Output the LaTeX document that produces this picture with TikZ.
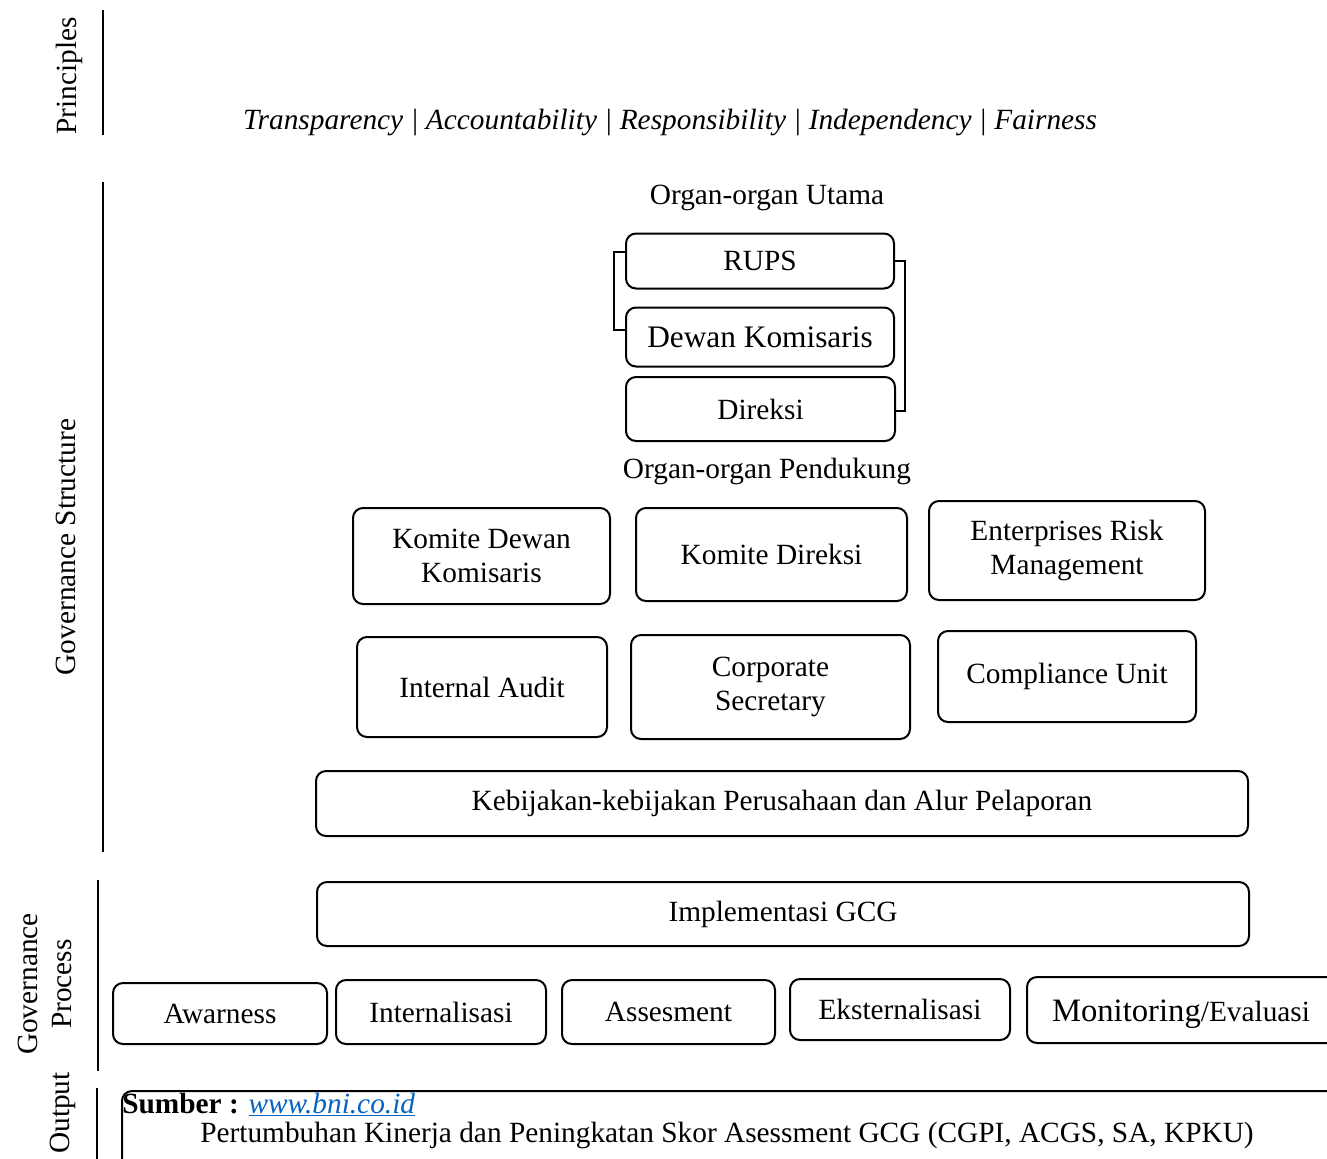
\documentclass[tikz,border=0pt]{standalone}
\usepackage{fontspec}
\setmainfont{Liberation Serif}
\usetikzlibrary{fit}
\definecolor{linkblue}{HTML}{0563C1}
\begin{document}
\begin{tikzpicture}[x=0.75pt,y=-0.75pt,
  box/.style={draw, line width=1.5pt, rounded corners=7.5pt, inner sep=0pt, align=center, font=\fontsize{22}{25.5}\selectfont},
  sz/.style 2 args={minimum width=#1*0.75pt, minimum height=#2*0.75pt},
  lbl/.style={font=\fontsize{22}{25.5}\selectfont, align=center, inner sep=0pt},
  vlbl/.style={lbl, rotate=90},
  sep/.style={line width=1pt},
  brk/.style={line width=0.8pt}]
\useasboundingbox (0,0) rectangle (1327,1158);
\clip (0,0) rectangle (1327,1158);

% side labels and separators
\node[vlbl] (lprin) at (69,76) {Principles};
\draw[sep] (103,10) -- (103,135);
\node[vlbl] (lstruct) at (66,547) {Governance Structure};
\draw[sep] (103,182) -- (103,852);
\node[vlbl] (lproc) at (45,984) {Governance\\Process};
\draw[sep] (98,880) -- (98,1071);
\node[vlbl] (lout) at (63,1113) {Output};
\draw[sep] (97,1088) -- (97,1160);

% principles
\node[lbl, font=\fontsize{22}{25.5}\selectfont\itshape] (prin) at (670,122) {Transparency | Accountability | Responsibility | Independency | Fairness};

% main organs
\node[lbl] (tutama) at (767,198) {Organ-organ Utama};
\node[box, sz={268}{55}] (rups) at (760,261) {RUPS};
\node[box, sz={268}{59}, font=\fontsize{23.5}{27}\selectfont] (dk) at (760,337) {Dewan Komisaris};
\node[box, sz={269}{64}] (dir) at (760.5,409) {Direksi};
\draw[brk] (rups.west |- 0,252) -- (614,252) -- (614,330) -- (dk.west |- 0,330);
\draw[brk] (rups.east |- 0,261) -- (905,261) -- (905,411) -- (dir.east |- 0,411);

% supporting organs
\node[lbl] (tpend) at (767,471) {Organ-organ Pendukung};
\node[box, sz={257}{96}] (kdk) at (481.5,556) {Komite Dewan\\Komisaris};
\node[box, sz={271}{93}] (kdir) at (771.5,554.5) {Komite Direksi};
\node[box, sz={276}{99}] (erm) at (1067,550.5) {Enterprises Risk\\Management};
\node[box, sz={250}{100}] (ia) at (482,687) {Internal Audit};
\node[box, sz={279}{104}] (cs) at (770.5,687) {Corporate\\Secretary};
\node[box, sz={258}{91}] (cu) at (1067,676.5) {Compliance Unit};
\node[box, sz={932}{65}] (keb) at (782,803.5) {Kebijakan-kebijakan Perusahaan dan Alur Pelaporan};

% process
\node[box, sz={932}{64}] (impl) at (783,914) {Implementasi GCG};
\node[box, sz={214}{61}] (aw) at (220,1013.5) {Awarness};
\node[box, sz={210}{64}] (int) at (441,1012) {Internalisasi};
\node[box, sz={213}{64}] (as) at (668.5,1012) {Assesment};
\node[box, sz={220}{61}] (ek) at (900,1009.5) {Eksternalisasi};
\node[box, fit={(1027,977) (1340,1043)}] (mon) {};
\node[lbl, anchor=base] (tmon) at (1181,1021) {{\fontsize{24.5}{27}\selectfont Monitoring}/Evaluasi};

% output
\node[box, fit={(122,1091) (1340,1180)}] (out) {};
\node[lbl, anchor=base] (tout) at (727,1142) {Pertumbuhan Kinerja dan Peningkatan Skor Asessment GCG (CGPI, ACGS, SA, KPKU)};
\node[lbl, anchor=base west] (src) at (122,1113) {\textbf{Sumber :} \textcolor{linkblue}{\textit{\underline{www.bni.co.id}}}};
\end{tikzpicture}
\end{document}
